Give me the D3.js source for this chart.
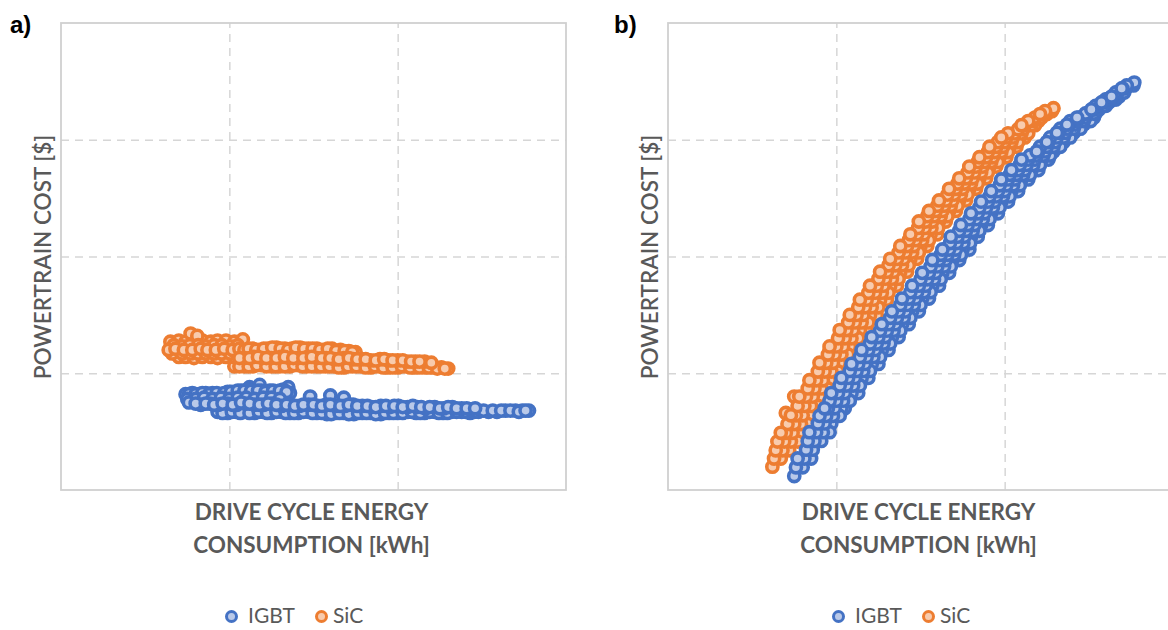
<!DOCTYPE html>
<html><head><meta charset="utf-8">
<script src="https://cdn.jsdelivr.net/npm/d3@7"></script>
<style>body{margin:0;background:#fff;} svg{display:block;}</style>
</head><body>
<svg id="chart" width="1168" height="630"></svg>
<script>
// ---------------- DATA ----------------
// axis ticks (no labels are printed on the original)
const xGridTicks = [10, 20];
const yGridTicks = [10, 20, 30];
const seriesNames = ["IGBT", "SiC"];
const panelLabels = ["a)", "b)"];
const xTitleLines = ["DRIVE CYCLE ENERGY", "CONSUMPTION [kWh]"];
const yTitle = "POWERTRAIN COST [$]";

// Panel a) - IGBT  [energy, cost]
const igbtA_row3 = [[9.3,6.7],[9.9,6.6],[10.4,6.7],[10.9,6.7],[11.5,6.6],[12.0,6.7],[12.5,6.6],[13.1,6.7],[13.6,6.6],[14.1,6.6],[14.7,6.7],[15.2,6.6],[15.8,6.5],[16.3,6.6],[16.8,6.6],[17.4,6.5],[17.9,6.6],[18.4,6.6],[19.0,6.5],[19.5,6.6],[20.0,6.6],[20.6,6.7],[21.1,6.6],[21.6,6.6],[22.2,6.7],[22.7,6.6],[23.2,6.7],[23.8,6.7],[24.3,6.6],[24.8,6.7],[25.4,6.7],[25.9,6.7],[26.4,6.8],[27.0,6.8],[27.4,6.8],[27.8,6.8]];
const igbtA_row3b = [[9.6,6.6],[10.15,6.7],[10.65,6.6],[11.2,6.6],[11.75,6.7],[12.25,6.6],[12.8,6.7],[13.35,6.6],[13.85,6.6],[14.4,6.7],[14.95,6.6],[15.5,6.6],[16.05,6.5],[16.55,6.6],[17.1,6.5],[17.65,6.6],[18.15,6.6],[18.7,6.5],[19.25,6.6],[19.75,6.6],[20.3,6.6],[20.85,6.7],[21.35,6.6],[21.9,6.7],[22.45,6.6],[22.95,6.6],[23.5,6.7],[24.05,6.7],[24.55,6.7],[25.1,6.8],[25.65,6.8],[26.15,6.8],[26.7,6.8],[27.2,6.7],[27.6,6.8]];
const igbtA_row2 = [[7.6,7.5],[8.0,7.4],[8.6,7.4],[9.1,7.3],[9.6,7.4],[10.2,7.3],[10.7,7.5],[11.2,7.4],[11.8,7.3],[12.3,7.4],[12.8,7.3],[13.4,7.3],[13.9,7.2],[14.4,7.3],[15.0,7.3],[15.5,7.2],[16.0,7.3],[16.6,7.2],[17.1,7.3],[17.6,7.2],[18.2,7.2],[18.7,7.1],[19.3,7.2],[19.8,7.2],[20.3,7.1],[20.9,7.2],[21.4,7.1],[21.9,7.1],[22.5,7.0],[23.0,7.1],[23.5,7.0],[24.1,7.0],[24.6,7.0]];
const igbtA_row2b = [[8.3,7.3],[8.85,7.4],[9.35,7.3],[9.9,7.4],[10.45,7.3],[10.95,7.4],[11.5,7.3],[12.05,7.3],[12.55,7.4],[13.1,7.2],[13.65,7.3],[14.15,7.2],[14.7,7.3],[15.25,7.2],[15.75,7.3],[16.3,7.2],[16.85,7.2],[17.35,7.3],[17.9,7.2],[18.45,7.1],[19.0,7.2],[19.55,7.1],[20.05,7.2],[20.6,7.1],[21.15,7.1],[21.65,7.0],[22.2,7.1],[22.75,7.0],[23.25,7.1],[23.8,7.0],[24.35,6.9]];
const igbtA_row1c = [[7.5,7.8],[8.0,7.8],[8.5,7.9],[9.0,7.8],[9.5,7.9],[10.0,7.8],[10.5,7.9],[11.0,7.9],[11.5,7.8],[12.0,7.9],[12.5,7.9],[13.0,7.8]];
const igbtA_row1 = [[7.4,8.2],[7.8,8.3],[8.2,8.2],[8.6,8.3],[9.0,8.3],[9.5,8.2],[9.9,8.4],[10.3,8.4],[10.7,8.5],[11.1,8.6],[11.5,8.4],[11.9,8.5],[12.4,8.5],[12.8,8.4],[13.2,8.6],[13.6,8.3]];
const igbtA_row1b = [[7.6,8.2],[8.0,8.2],[8.4,8.3],[8.8,8.2],[9.25,8.3],[9.7,8.3],[10.1,8.4],[10.5,8.5],[10.9,8.5],[11.3,8.5],[11.7,8.5],[12.15,8.4],[12.6,8.5],[13.0,8.5],[13.4,8.4]];
const igbtA_peaks = [[11.2,8.8],[11.8,9.0],[13.5,8.8],[14.8,8.0],[16.0,8.1],[16.8,7.9]];

// Panel a) - SiC
const sicA_row6 = [[10.3,10.6],[10.9,10.6],[11.4,10.6],[11.9,10.7],[12.5,10.6],[13.0,10.6],[13.6,10.6],[14.1,10.7],[14.6,10.6],[15.2,10.6],[15.7,10.6],[16.2,10.6],[16.8,10.5],[17.3,10.6],[17.8,10.6],[18.4,10.5],[18.9,10.6],[19.4,10.5],[20.0,10.5],[20.5,10.6],[21.0,10.5],[21.6,10.5],[22.1,10.5],[22.6,10.5],[23.0,10.4]];
const sicA_row6b = [[10.6,10.6],[11.15,10.6],[11.65,10.7],[12.2,10.6],[12.75,10.6],[13.3,10.6],[13.85,10.7],[14.35,10.6],[14.9,10.6],[15.45,10.6],[15.95,10.6],[16.5,10.5],[17.05,10.6],[17.55,10.6],[18.1,10.5],[18.65,10.6],[19.15,10.5],[19.7,10.5],[20.25,10.6],[20.75,10.5],[21.3,10.5],[21.85,10.5],[22.35,10.4],[22.8,10.4]];
const sicA_row3 = [[7.0,11.4],[7.4,11.4],[7.9,11.3],[8.4,11.4],[8.9,11.4],[9.3,11.3],[9.8,11.4],[10.3,11.4]];
const sicA_row23b = [[6.6,11.7],[7.2,11.7],[7.7,11.7],[8.15,11.7],[8.6,11.7],[9.1,11.7],[9.55,11.7],[10.05,11.7],[10.5,11.7]];
const sicA_row1 = [[6.5,12.7],[7.0,12.8],[7.4,12.7],[7.9,12.7],[8.4,12.8],[8.9,12.7],[9.3,12.8],[9.8,12.8],[10.3,12.7],[10.8,12.9],[7.7,13.4],[8.1,13.2]];
const sicA_row12b = [[6.7,12.4],[7.2,12.3],[7.65,12.4],[8.15,12.4],[8.6,12.3],[9.1,12.4],[9.55,12.4],[10.05,12.3],[10.5,12.4]];
const sicA_row2 = [[6.4,12.0],[6.8,12.1],[7.3,12.0],[7.8,12.0],[8.3,12.1],[8.7,12.0],[9.2,12.0],[9.7,12.1],[10.2,12.0],[10.6,12.1]];
const sicA_row4 = [[10.9,12.0],[11.4,12.1],[11.8,12.0],[12.3,12.1],[12.8,12.2],[13.3,12.1],[13.7,12.1],[14.2,12.2],[14.7,12.1],[15.2,12.1],[15.6,12.0],[16.1,12.1],[16.6,12.0],[17.1,11.9],[17.5,11.8]];
const sicA_row4b = [[11.15,12.1],[11.6,12.0],[12.05,12.1],[12.55,12.2],[13.05,12.1],[13.5,12.0],[13.95,12.2],[14.45,12.1],[14.95,12.1],[15.4,12.0],[15.85,12.1],[16.35,11.9],[16.85,11.9],[17.3,11.8]];
const sicA_row5 = [[10.6,11.3],[11.2,11.3],[11.7,11.4],[12.2,11.3],[12.8,11.3],[13.3,11.4],[13.8,11.3],[14.4,11.3],[14.9,11.4],[15.5,11.3],[16.0,11.3],[16.5,11.2],[17.1,11.3],[17.6,11.2],[18.1,11.2],[18.7,11.1],[19.2,11.2],[19.7,11.1],[20.3,11.1],[20.8,11.0],[21.3,11.0]];
const sicA_row5b = [[10.9,11.3],[11.45,11.4],[11.95,11.3],[12.5,11.3],[13.05,11.4],[13.55,11.3],[14.1,11.3],[14.65,11.4],[15.2,11.3],[15.75,11.3],[16.25,11.2],[16.8,11.3],[17.35,11.2],[17.85,11.2],[18.4,11.1],[18.95,11.2],[19.45,11.1],[20.0,11.1],[20.55,11.0],[21.05,11.0],[21.6,11.0],[22.0,10.9]];

// Panel b) - IGBT : rows of the cloud share a cost value, energy listed per band
const igbtB_cost   = [1.2,2.7,4.2,5.7,7.0,8.3,9.6,10.8,12.0,13.1,14.2,15.3,16.4,17.5,18.6,19.7,20.6,21.7,22.7,23.7,24.7,25.6,26.6,27.4,28.3,29.0,29.8,30.6,31.3,31.9,32.6,33.2,33.7,34.4,34.9];
const igbtB_eOut   = [null,null,null,null,10.5,11.3,11.9,12.5,13.1,13.7,14.3,14.9,15.5,16.1,16.7,17.3,17.9,18.4,19.0,19.6,20.2,20.8,21.4,22.0,22.6,22.9,23.5,24.1,24.7,25.3,null,null,null,null,null];
const igbtB_eRight = [null,8.5,9.1,9.7,10.3,10.9,11.5,12.1,12.7,13.3,13.9,14.5,15.1,15.7,16.3,16.9,17.5,18.0,18.6,19.2,19.8,20.4,21.0,21.6,22.2,22.8,23.4,24.0,24.6,25.2,25.6,26.2,26.8,null,null];
const igbtB_eMid   = [7.5,8.1,8.7,9.3,9.9,10.5,11.1,11.7,12.3,12.9,13.5,14.1,14.7,15.3,15.9,16.5,17.1,17.6,18.2,18.8,19.4,20.0,20.6,21.2,21.8,22.4,23.0,23.6,24.2,24.8,25.4,26.0,26.6,27.2,27.7];
const igbtB_eLeft  = [null,7.7,8.3,8.9,9.5,10.1,10.7,11.3,11.9,12.5,13.1,13.7,14.3,14.9,15.5,16.1,16.7,17.2,17.8,18.4,19.0,19.6,20.2,20.8,21.4,22.0,22.6,23.2,23.8,24.4,25.2,25.8,26.4,27.0,null];
const igbtB_eIn    = [null,null,null,null,9.3,9.7,10.3,10.9,11.5,12.1,12.7,13.3,13.9,14.5,15.1,15.7,16.3,16.8,17.4,18.0,18.6,19.2,19.8,20.4,21.0,21.9,22.5,23.1,23.7,24.3,25.15,25.75,26.35,26.95,null];
// in-between rows
const igbtB_cost2  = [1.95,3.45,4.95,6.35,7.65,8.95,10.2,11.4,12.55,13.65,14.75,15.85,16.95,18.05,19.15,20.15,21.15,22.2,23.2,24.2,25.15,26.1,27.0,27.85,28.65,29.4,30.2,30.95,31.6,32.25,32.9,33.45,34.05,34.65];
const igbtB_e2A    = [null,null,8.4,9.0,9.6,10.2,10.8,11.4,12.0,12.6,13.2,13.8,14.4,15.0,15.6,16.2,16.75,17.3,17.9,18.5,19.1,19.7,20.3,20.9,21.5,22.1,22.7,23.3,23.9,24.8,25.4,26.0,26.6,null];
const igbtB_e2B    = [7.6,8.2,8.8,9.4,10.0,10.6,11.2,11.8,12.4,13.0,13.6,14.2,14.8,15.4,16.0,16.6,17.15,17.7,18.3,18.9,19.5,20.1,20.7,21.3,21.9,22.5,23.1,23.7,24.3,24.9,25.5,26.1,26.7,27.25];
const igbtB_e2C    = [8.0,8.6,9.2,9.8,10.4,11.0,11.6,12.2,12.8,13.4,14.0,14.6,15.2,15.8,16.4,17.0,17.55,18.1,18.7,19.3,19.9,20.5,21.1,21.7,22.3,22.9,23.5,24.1,24.7,25.3,25.9,26.5,27.1,27.65];
const igbtB_e2D    = [null,null,9.6,10.2,10.8,11.4,12.0,12.6,13.2,13.8,14.4,15.0,15.6,16.2,16.8,17.4,17.95,18.5,19.1,19.7,20.3,20.9,21.5,22.1,22.7,23.3,23.9,24.5,25.1,25.4,26.0,26.6,null,null];

// Panel b) - SiC
const sicB_cost   = [2.0,3.4,4.9,6.4,8.0,9.4,10.9,12.3,13.7,15.0,16.3,17.5,18.7,19.8,20.9,21.9,23.0,23.9,24.8,25.8,26.7,27.7,28.5,29.4,30.2,30.9,31.6,32.2,32.7];
const sicB_eOut   = [null,null,8.1,8.7,9.4,10.0,10.6,11.2,11.8,12.4,13.0,13.6,14.2,14.8,15.4,16.0,16.5,17.1,17.7,18.3,18.9,19.5,20.1,20.7,21.2,null,null,null,null];
const sicB_eRight = [null,7.2,7.8,8.4,9.0,9.6,10.2,10.8,11.4,12.0,12.6,13.2,13.8,14.4,15.0,15.6,16.1,16.7,17.3,17.9,18.5,19.1,19.7,20.3,20.9,21.4,22.0,22.5,null];
const sicB_eMid   = [6.2,6.8,7.4,8.0,8.6,9.2,9.8,10.4,11.0,11.6,12.2,12.8,13.4,14.0,14.6,15.2,15.7,16.3,16.9,17.5,18.1,18.7,19.3,19.9,20.5,21.1,21.7,22.3,22.9];
const sicB_eLeft  = [null,6.4,7.0,7.6,8.2,8.8,9.4,10.0,10.6,11.2,11.8,12.4,13.0,13.6,14.2,14.8,15.3,15.9,16.5,17.1,17.7,18.3,18.9,19.5,20.1,20.8,21.4,22.1,null];
const sicB_eIn    = [null,null,6.7,7.3,7.8,8.4,9.0,9.6,10.2,10.8,11.4,12.0,12.6,13.2,13.8,14.4,14.9,15.5,16.1,16.7,17.3,17.9,18.5,19.1,19.8,null,null,null,null];
const sicB_cost2  = [2.7,4.15,5.65,7.2,8.7,10.15,11.6,13.0,14.35,15.65,16.9,18.1,19.25,20.35,21.4,22.45,23.45,24.35,25.3,26.25,27.2,28.1,28.95,29.8,30.55,31.25,31.9,32.45];
const sicB_e2A    = [null,6.5,7.1,7.7,8.3,8.9,9.5,10.1,10.7,11.3,11.9,12.5,13.1,13.7,14.3,14.85,15.4,16.0,16.6,17.2,17.8,18.4,19.0,19.6,20.2,21.0,null,null];
const sicB_e2B    = [6.3,6.9,7.5,8.1,8.7,9.3,9.9,10.5,11.1,11.7,12.3,12.9,13.5,14.1,14.7,15.25,15.8,16.4,17.0,17.6,18.2,18.8,19.4,20.0,20.6,21.2,21.8,22.4];
const sicB_e2C    = [6.7,7.3,7.9,8.5,9.1,9.7,10.3,10.9,11.5,12.1,12.7,13.3,13.9,14.5,15.1,15.65,16.2,16.8,17.4,18.0,18.6,19.2,19.8,20.4,21.0,21.6,22.2,22.8];
const sicB_e2D    = [null,7.7,8.3,8.9,9.5,10.1,10.7,11.3,11.9,12.5,13.1,13.7,14.3,14.9,15.5,16.05,16.6,17.2,17.8,18.4,19.0,19.6,20.2,20.8,21.4,21.8,null,null];
const sicB_bumps  = [[7.5,8.0],[7.0,6.6],[9.6,12.0],[10.4,13.4],[13.6,19.6]];

// ---------------- STYLE ----------------
const colors = {
  IGBT: {stroke: "#4472C4", fill: "#b9c9e9"},
  SiC:  {stroke: "#ED7D31", fill: "#f8cbad"}
};
const textColor = "#595959";
const gridColor = "#d6d6d6";

const svg = d3.select("#chart");
svg.append("rect").attr("width",1168).attr("height",630).attr("fill","#fff");

const PW = 505, PH = 467, PTOP = 23;

function zipBand(eArr, cArr) {
  const out = [];
  eArr.forEach((e, i) => { if (e !== null) out.push([e, cArr[i]]); });
  return out;
}

function drawPanel(left, labelX, label, layers) {
  const g = svg.append("g");
  const x = d3.scaleLinear().domain([0, 30]).range([left, left + PW]);
  const y = d3.scaleLinear().domain([0, 40]).range([PTOP + PH, PTOP]);

  g.append("g").attr("transform", `translate(0,${PTOP + PH})`)
    .call(d3.axisBottom(x).tickValues(xGridTicks).tickSize(-PH).tickFormat(""))
    .call(a => {
      a.select(".domain").remove();
      a.selectAll("line").attr("stroke", gridColor).attr("stroke-width", 1.5).attr("stroke-dasharray", "8,6");
    });
  g.append("g").attr("transform", `translate(${left},0)`)
    .call(d3.axisLeft(y).tickValues(yGridTicks).tickSize(-PW).tickFormat(""))
    .call(a => {
      a.select(".domain").remove();
      a.selectAll("line").attr("stroke", gridColor).attr("stroke-width", 1.5).attr("stroke-dasharray", "8,6");
    });
  g.append("rect").attr("x", x(0)).attr("y", y(40)).attr("width", x(30) - x(0)).attr("height", y(0) - y(40))
    .attr("fill", "none").attr("stroke", "#d0d0d0").attr("stroke-width", 1.8);

  layers.forEach(layer => {
    const c = colors[layer.series];
    g.append("g").selectAll("circle").data(layer.points).join("circle")
      .attr("cx", d => x(d[0])).attr("cy", d => y(d[1])).attr("r", 5.6)
      .attr("fill", c.fill).attr("stroke", c.stroke).attr("stroke-width", 3.6);
  });

  svg.append("text").attr("x", labelX).attr("y", 33).text(label)
    .attr("font-family", "Liberation Sans, Arial, sans-serif").attr("font-weight", "bold")
    .attr("font-size", 24).attr("fill", "#000");

  svg.append("text").attr("transform", `translate(${left - 10},257) rotate(-90)`)
    .attr("text-anchor", "middle").text(yTitle)
    .attr("font-family", "Lato, sans-serif").attr("font-weight", 600).attr("font-size", 22.5).attr("fill", textColor);

  xTitleLines.forEach((t, i) => {
    svg.append("text").attr("x", left + 250.5).attr("y", 520 + i * 33).attr("text-anchor", "middle").text(t)
      .attr("font-family", "Lato, sans-serif").attr("font-weight", "bold").attr("font-size", 22.5).attr("fill", textColor);
  });

  const legendPos = [{cx: left + 170.5, tx: left + 187}, {cx: left + 260.5, tx: left + 272}];
  seriesNames.forEach((s, i) => {
    svg.append("circle").attr("cx", legendPos[i].cx).attr("cy", 616.5).attr("r", 5)
      .attr("fill", colors[s].fill).attr("stroke", colors[s].stroke).attr("stroke-width", 3);
    svg.append("text").attr("x", legendPos[i].tx).attr("y", 623).text(s)
      .attr("font-family", "Lato, sans-serif").attr("font-size", 21).attr("fill", textColor);
  });
}

drawPanel(61, 10, panelLabels[0], [
  {series: "IGBT", points: igbtA_row3},
  {series: "IGBT", points: igbtA_row3b},
  {series: "IGBT", points: igbtA_peaks},
  {series: "IGBT", points: igbtA_row1},
  {series: "IGBT", points: igbtA_row1b},
  {series: "IGBT", points: igbtA_row1c},
  {series: "IGBT", points: igbtA_row2b},
  {series: "IGBT", points: igbtA_row2},
  {series: "SiC", points: sicA_row6},
  {series: "SiC", points: sicA_row6b},
  {series: "SiC", points: sicA_row3},
  {series: "SiC", points: sicA_row23b},
  {series: "SiC", points: sicA_row1},
  {series: "SiC", points: sicA_row12b},
  {series: "SiC", points: sicA_row2},
  {series: "SiC", points: sicA_row4},
  {series: "SiC", points: sicA_row4b},
  {series: "SiC", points: sicA_row5b},
  {series: "SiC", points: sicA_row5}
]);

drawPanel(668, 614, panelLabels[1], [
  {series: "SiC", points: zipBand(sicB_eOut, sicB_cost)},
  {series: "SiC", points: zipBand(sicB_eRight, sicB_cost)},
  {series: "SiC", points: zipBand(sicB_e2D, sicB_cost2)},
  {series: "SiC", points: sicB_bumps},
  {series: "SiC", points: zipBand(sicB_e2C, sicB_cost2)},
  {series: "SiC", points: zipBand(sicB_eMid, sicB_cost)},
  {series: "SiC", points: zipBand(sicB_e2B, sicB_cost2)},
  {series: "SiC", points: zipBand(sicB_eLeft, sicB_cost)},
  {series: "SiC", points: zipBand(sicB_e2A, sicB_cost2)},
  {series: "SiC", points: zipBand(sicB_eIn, sicB_cost)},
  {series: "IGBT", points: zipBand(igbtB_eOut, igbtB_cost)},
  {series: "IGBT", points: zipBand(igbtB_eRight, igbtB_cost)},
  {series: "IGBT", points: zipBand(igbtB_e2D, igbtB_cost2)},
  {series: "IGBT", points: zipBand(igbtB_e2C, igbtB_cost2)},
  {series: "IGBT", points: zipBand(igbtB_eMid, igbtB_cost)},
  {series: "IGBT", points: zipBand(igbtB_e2B, igbtB_cost2)},
  {series: "IGBT", points: zipBand(igbtB_eLeft, igbtB_cost)},
  {series: "IGBT", points: zipBand(igbtB_e2A, igbtB_cost2)},
  {series: "IGBT", points: zipBand(igbtB_eIn, igbtB_cost)}
]);
</script>
</body></html>
